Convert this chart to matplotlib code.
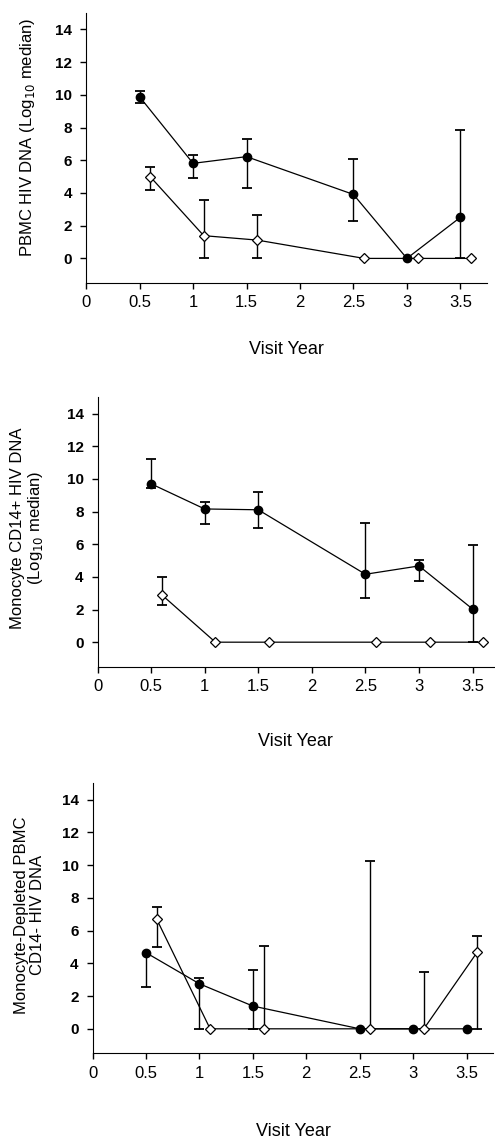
import numpy as np
import matplotlib.pyplot as plt

plt.rcParams['font.family'] = ['Liberation Sans', 'DejaVu Sans']

nan = np.nan

# visit years (open diamonds are offset a little to the right)
visits_filled = [0.5, 1, 1.5, 2.5, 3, 3.5]
visits_open = [0.6, 1.1, 1.6, 2.6, 3.1, 3.6]
xtick_vals = [0, 0.5, 1, 1.5, 2, 2.5, 3, 3.5]
xtick_labels = ['0', '0.5', '1', '1.5', '2', '2.5', '3', '3.5']
ytick_vals = [0, 2, 4, 6, 8, 10, 12, 14]

# PBMC
pbmc_filled = [9.88, 5.81, 6.22, 3.91, 0, 2.51]
pbmc_filled_lo = [9.52, 4.93, 4.28, 2.30, nan, 0]
pbmc_filled_hi = [10.25, 6.32, 7.28, 6.05, nan, 7.85]
pbmc_open = [4.99, 1.39, 1.12, 0, 0, 0]
pbmc_open_lo = [4.18, 0, 0, nan, nan, nan]
pbmc_open_hi = [5.60, 3.57, 2.65, nan, nan, nan]

# Monocyte CD14+
cd14p_filled = [9.70, 8.16, 8.11, 4.16, 4.67, 2.03]
cd14p_filled_lo = [9.44, 7.22, 7.02, 2.72, 3.77, 0]
cd14p_filled_hi = [11.20, 8.58, 9.21, 7.32, 5.01, 5.98]
cd14p_open = [2.90, 0, 0, 0, 0, 0]
cd14p_open_lo = [2.29, nan, nan, nan, nan, nan]
cd14p_open_hi = [3.98, nan, nan, nan, nan, nan]

# Monocyte-depleted CD14-
cd14n_filled = [4.65, 2.75, 1.39, 0, 0, 0]
cd14n_filled_lo = [2.55, 0, 0, nan, nan, nan]
cd14n_filled_hi = [nan, 3.12, 3.61, nan, nan, nan]
cd14n_open = [6.70, 0, 0, 0, 0, 4.69]
cd14n_open_lo = [5.01, nan, nan, nan, nan, 0]
cd14n_open_hi = [7.42, nan, 5.03, 10.23, 3.46, 5.67]


def error_bars(ax, x, y, lo, hi):
    y = np.array(y, float)
    lo = np.array(lo, float)
    hi = np.array(hi, float)
    lo_end = np.where(np.isnan(lo), y, lo)
    hi_end = np.where(np.isnan(hi), y, hi)
    ax.vlines(x, lo_end, hi_end, color='black', lw=1, zorder=1)
    ax.plot(x, lo, ls='none', marker='_', ms=6.5, mew=1.3, color='black', zorder=1)
    ax.plot(x, hi, ls='none', marker='_', ms=6.5, mew=1.3, color='black', zorder=1)


def draw_panel(ax, yf, yf_lo, yf_hi, yo, yo_lo, yo_hi, xmax, ylabel):
    error_bars(ax, visits_filled, yf, yf_lo, yf_hi)
    error_bars(ax, visits_open, yo, yo_lo, yo_hi)
    ax.plot(visits_filled, yf, '-o', color='black', mfc='black', ms=6,
            lw=0.9, zorder=3, clip_on=False)
    ax.plot(visits_open, yo, '-D', color='black', mfc='white', mec='black',
            ms=5.3, mew=0.9, lw=0.9, zorder=3, clip_on=False)

    ax.set_xlim(0, xmax)
    ax.set_ylim(-1.5, 15)
    ax.set_xticks(xtick_vals, xtick_labels, fontsize=12)
    ax.set_yticks(ytick_vals, [str(v) for v in ytick_vals], fontsize=11, fontweight='bold')
    ax.spines['top'].set_visible(False)
    ax.spines['right'].set_visible(False)
    ax.tick_params(axis='x', length=4, width=1, pad=5)
    ax.tick_params(axis='y', length=4, width=1, pad=6)
    ax.set_ylabel(ylabel, fontsize=12, va='center', ha='center', linespacing=1.1)
    ax.set_xlabel('Visit Year', fontsize=13)


fig = plt.figure(figsize=(4.95, 11.4), dpi=100)

ax1 = fig.add_axes([0.174, 0.7518, 0.810, 0.2368])
draw_panel(ax1, pbmc_filled, pbmc_filled_lo, pbmc_filled_hi,
           pbmc_open, pbmc_open_lo, pbmc_open_hi, 3.75,
           'PBMC HIV DNA (Log$_{10}$ median)')
ax1.yaxis.set_label_coords(-0.145, 0.54)
ax1.xaxis.set_label_coords(0.5, -0.215)

ax2 = fig.add_axes([0.197, 0.4152, 0.801, 0.2363])
draw_panel(ax2, cd14p_filled, cd14p_filled_lo, cd14p_filled_hi,
           cd14p_open, cd14p_open_lo, cd14p_open_hi, 3.7,
           'Monocyte CD14+ HIV DNA\n(Log$_{10}$ median)')
ax2.yaxis.set_label_coords(-0.177, 0.515)
ax2.xaxis.set_label_coords(0.5, -0.246)

ax3 = fig.add_axes([0.187, 0.0760, 0.8096, 0.2369])
draw_panel(ax3, cd14n_filled, cd14n_filled_lo, cd14n_filled_hi,
           cd14n_open, cd14n_open_lo, cd14n_open_hi, 3.75,
           'Monocyte-Depleted PBMC\nCD14- HIV DNA')
ax3.yaxis.set_label_coords(-0.157, 0.512)
ax3.xaxis.set_label_coords(0.5, -0.258)

fig.savefig('out.png', dpi=100)
